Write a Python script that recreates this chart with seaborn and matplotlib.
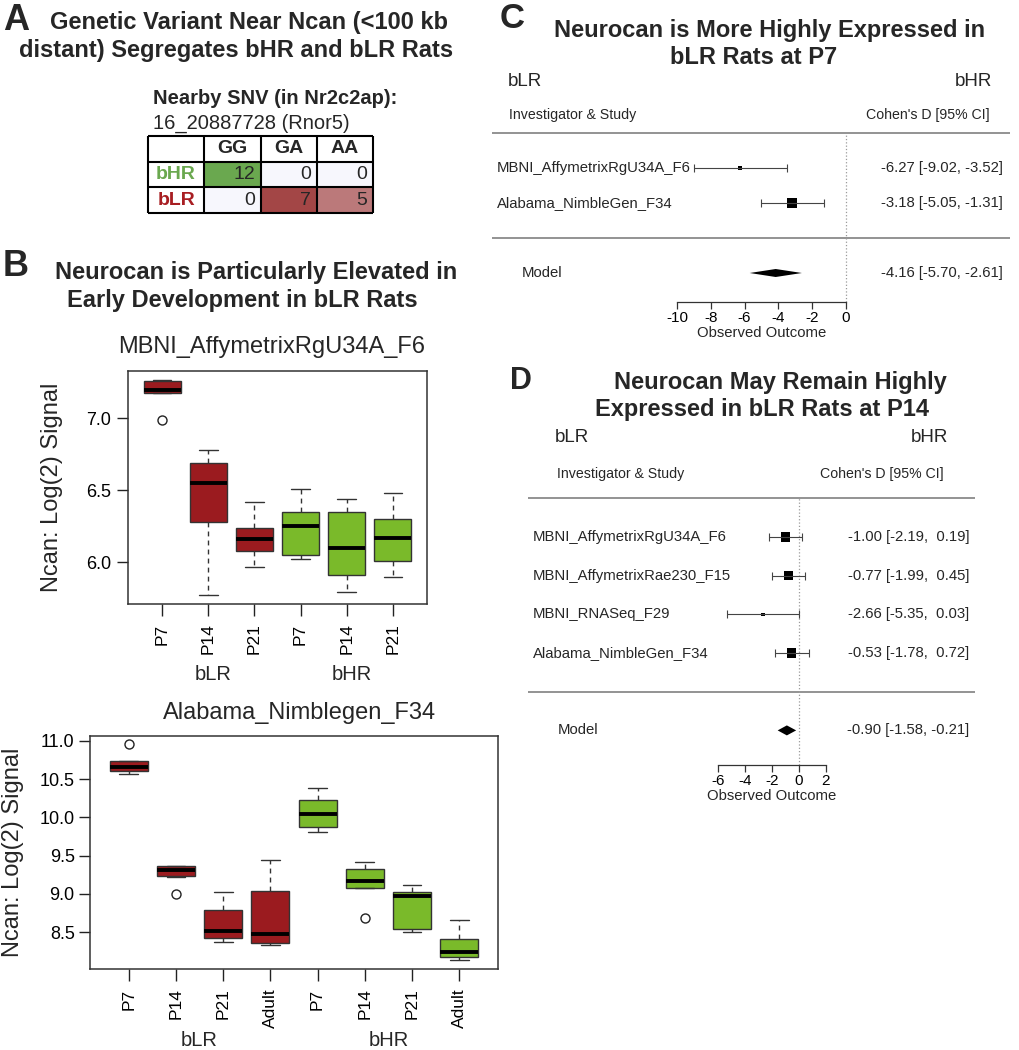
import numpy as np
import pandas as pd
import matplotlib
matplotlib.use("Agg")
import matplotlib.pyplot as plt
from matplotlib import transforms
from matplotlib.colors import LinearSegmentedColormap
import seaborn as sns

# ---- panel A: SNV genotype counts
genotypes = ["GG", "GA", "AA"]
strains = ["bHR", "bLR"]
bhr_counts = [12, 0, 0]
blr_counts = [0, 7, 5]

# ---- panel B: box stats (log2 signal)
f6_ages = ["P7", "P14", "P21", "P7", "P14", "P21"]
f6_lines = ["bLR", "bLR", "bLR", "bHR", "bHR", "bHR"]
f6_whislo = [7.18, 5.77, 5.97, 6.02, 5.79, 5.90]
f6_q1 = [7.18, 6.28, 6.08, 6.05, 5.91, 6.01]
f6_med = [7.20, 6.55, 6.16, 6.25, 6.10, 6.17]
f6_q3 = [7.26, 6.69, 6.24, 6.35, 6.35, 6.30]
f6_whishi = [7.27, 6.78, 6.42, 6.51, 6.44, 6.48]
f6_fliers = [[6.99], [], [], [], [], []]

f34_ages = ["P7", "P14", "P21", "Adult", "P7", "P14", "P21", "Adult"]
f34_lines = ["bLR"] * 4 + ["bHR"] * 4
f34_whislo = [10.57, 9.22, 8.37, 8.33, 9.81, 9.07, 8.50, 8.13]
f34_q1 = [10.60, 9.23, 8.42, 8.36, 9.87, 9.07, 8.54, 8.18]
f34_med = [10.66, 9.31, 8.52, 8.48, 10.04, 9.17, 8.97, 8.24]
f34_q3 = [10.74, 9.36, 8.79, 9.04, 10.22, 9.33, 9.02, 8.41]
f34_whishi = [10.74, 9.37, 9.02, 9.44, 10.38, 9.41, 9.12, 8.66]
f34_fliers = [[10.96], [9.00], [], [], [], [8.68], [], []]

# ---- panel C: Cohen's D at P7
c_studies = ["MBNI_AffymetrixRgU34A_F6", "Alabama_NimbleGen_F34"]
c_d = [-6.27, -3.18]
c_lo = [-9.02, -5.05]
c_hi = [-3.52, -1.31]
c_model = [-4.16, -5.70, -2.61]

# ---- panel D: Cohen's D at P14
d_studies = ["MBNI_AffymetrixRgU34A_F6", "MBNI_AffymetrixRae230_F15",
             "MBNI_RNASeq_F29", "Alabama_NimbleGen_F34"]
d_d = [-1.00, -0.77, -2.66, -0.53]
d_lo = [-2.19, -1.99, -5.35, -1.78]
d_hi = [0.19, 0.45, 0.03, 0.72]
d_model = [-0.90, -1.58, -0.21]

sns.set_style("ticks")
plt.rcParams["font.family"] = ["Liberation Sans", "DejaVu Sans"]
plt.rcParams["axes.unicode_minus"] = False

W, H = 1019, 1050
fig = plt.figure(figsize=(W / 100, H / 100), dpi=100)
line_col = {"bLR": "#9b1b1f", "bHR": "#7aba2a"}
lab_col = {"bHR": "#6aa84f", "bLR": "#a81e22"}
TITLE = 17


def fx(px):
    return px / W


def fy(py):
    return 1 - py / H


def ftext(px, py, s, **kw):
    kw.setdefault("va", "center")
    fig.text(fx(px), fy(py), s, **kw)


# ================= A
ftext(3, 21, "A", fontsize=26, fontweight="bold")
ftext(249, 22, "Genetic Variant Near Ncan (<100 kb", ha="center", fontsize=TITLE, fontweight="bold")
ftext(236, 50, "distant) Segregates bHR and bLR Rats", ha="center", fontsize=TITLE, fontweight="bold")
ftext(153, 98, "Nearby SNV (in Nr2c2ap):", fontsize=14.5, fontweight="bold")
ftext(153, 123, "16_20887728 (Rnor5)", fontsize=14.5)

ax_t = fig.add_axes([fx(148), fy(213), (373 - 148) / W, (213 - 136) / H])
cells = pd.DataFrame(np.nan, index=["hdr"] + strains, columns=["lab"] + genotypes)
green = cells.copy()
green.loc["bHR", genotypes] = bhr_counts
red = cells.copy()
red.loc["bLR", genotypes] = blr_counts
sns.heatmap(green, ax=ax_t, cbar=False, vmin=0, vmax=max(bhr_counts),
            cmap=LinearSegmentedColormap.from_list("g", ["#f7f7fd", "#6aa84f"]))
sns.heatmap(red, ax=ax_t, cbar=False, vmin=0, vmax=max(blr_counts),
            cmap=LinearSegmentedColormap.from_list("r", ["#f7f7fd", "#a34646"]))
ax_t.set_xlim(0, 4)
ax_t.set_ylim(3, 0)
ax_t.set_xticks([])
ax_t.set_yticks([])
ax_t.set_xlabel("")
ax_t.set_ylabel("")
ax_t.hlines(range(4), 0, 4, color="black", lw=1.5, clip_on=False)
ax_t.vlines(range(5), 0, 3, color="black", lw=1.5, clip_on=False)
for j, g in enumerate(genotypes):
    ax_t.text(j + 1.5, 0.5, g, ha="center", va="center", fontsize=14, fontweight="bold")
for i, (s, counts) in enumerate(zip(strains, [bhr_counts, blr_counts])):
    ax_t.text(0.5, i + 1.5, s, ha="center", va="center", fontsize=14,
              fontweight="bold", color=lab_col[s])
    for j, v in enumerate(counts):
        ax_t.text(j + 1.9, i + 1.5, str(v), ha="right", va="center", fontsize=14)


# ================= B
ftext(3, 266, "B", fontsize=26, fontweight="bold")
ftext(256, 273, "Neurocan is Particularly Elevated in", ha="center", fontsize=TITLE, fontweight="bold")
ftext(242, 301, "Early Development in bLR Rats", ha="center", fontsize=TITLE, fontweight="bold")


def boxpanel(box, ages, lines, whislo, q1, med, q3, whishi, fliers, xlim, ylim, yticks,
             title, title_xy, ylab_xy, groups, group_py, ypad):
    x0, top, x1, bot = box
    ax = fig.add_axes([fx(x0), fy(bot), (x1 - x0) / W, (bot - top) / H])
    stats = [dict(whislo=a, q1=b, med=c, q3=d, whishi=e, fliers=f)
             for a, b, c, d, e, f in zip(whislo, q1, med, q3, whishi, fliers)]
    pos = np.arange(1, len(stats) + 1)
    bp = ax.bxp(stats, positions=pos, widths=0.8, capwidths=0.4, patch_artist=True,
                boxprops=dict(edgecolor="#333333", linewidth=1),
                medianprops=dict(color="black", linewidth=2.8),
                whiskerprops=dict(color="#333333", linewidth=1, linestyle=(0, (3.5, 3))),
                capprops=dict(color="#333333", linewidth=1),
                flierprops=dict(marker="o", mfc="none", mec="#222222", ms=6.5, mew=1))
    for patch, ln in zip(bp["boxes"], lines):
        patch.set_facecolor(line_col[ln])
    ax.set_xlim(*xlim)
    ax.set_ylim(*ylim)
    ax.set_xticks(pos)
    ax.set_xticklabels(ages, rotation=90, fontsize=12.5)
    ax.set_yticks(yticks)
    ax.set_yticklabels([f"{t:.1f}" for t in yticks], fontsize=13)
    ax.tick_params(axis="x", bottom=True, direction="out", length=8.5, width=1, pad=5.5,
                   colors="#222222")
    ax.tick_params(axis="y", left=True, direction="out", length=8, width=1, pad=ypad,
                   colors="#222222")
    ax.tick_params(labelcolor="black")
    for sp in ax.spines.values():
        sp.set_visible(True)
        sp.set_color("#333333")
        sp.set_linewidth(1.1)
    ftext(title_xy[0], title_xy[1], title, ha="center", fontsize=17)
    ftext(ylab_xy[0], ylab_xy[1], "Ncan: Log(2) Signal", ha="center", rotation=90, fontsize=17)
    tr = transforms.blended_transform_factory(ax.transData, fig.transFigure)
    for gx, name in groups:
        ax.text(gx, fy(group_py), name, transform=tr, ha="center", va="center", fontsize=14.5)
    return ax


boxpanel((128, 371, 427, 604), f6_ages, f6_lines, f6_whislo, f6_q1, f6_med, f6_q3,
         f6_whishi, f6_fliers, (0.26, 6.74), (5.71, 7.33), [6.0, 6.5, 7.0],
         "MBNI_AffymetrixRgU34A_F6", (272, 347), (52, 487),
         [(2.1, "bLR"), (5.1, "bHR")], 674, 4)
boxpanel((90, 736, 498, 969), f34_ages, f34_lines, f34_whislo, f34_q1, f34_med, f34_q3,
         f34_whishi, f34_fliers, (0.18, 8.82), (8.017, 11.063),
         [8.5, 9.0, 9.5, 10.0, 10.5, 11.0],
         "Alabama_Nimblegen_F34", (300, 713), (13, 852),
         [(2.5, "bLR"), (6.5, "bHR")], 1040, 3)


# ================= C and D: forest plots
def forest(x_px, top_py, axis_py, zero_px, ppu, step, ticks, studies, d, lo, hi, model,
           label_px, model_px, value_px, line_px, dia_px, xlab_py):
    k = len(studies)
    row1_py = top_py + k * step
    ax = fig.add_axes([fx(x_px[0]), fy(axis_py), (x_px[1] - x_px[0]) / W, (axis_py - top_py) / H])
    ax.patch.set_visible(False)

    def tx(px):
        return (px - zero_px) / ppu

    def ty(py):
        return 1 + (row1_py - py) / step

    rows = np.arange(k, 0, -1)
    d, lo, hi = np.asarray(d), np.asarray(lo), np.asarray(hi)
    ax.hlines([k + 1, 0], tx(line_px[0]), tx(line_px[1]), color="#8a8a8a", lw=1.3, clip_on=False)
    ax.vlines(0, ty(axis_py), k + 1, color="#9a9a9a", lw=0.9, linestyles=":")
    ax.errorbar(d, rows, xerr=[d - lo, hi - d], fmt="none", ecolor="#444444",
                elinewidth=0.8, capsize=2.8, capthick=0.8)
    # square size from inverse-variance weight, like metafor
    se = (hi - lo) / 3.92
    w = 1 / se ** 2
    psize = 0.5 + (w - w.min()) / (w.max() - w.min())
    df = pd.DataFrame({"d": d, "row": rows, "area": psize ** 2})
    sns.scatterplot(data=df, x="d", y="row", size="area", sizes=(5.6, 50.8), marker="s",
                    color="black", linewidth=0, legend=False, ax=ax)
    m_d, m_lo, m_hi = model
    h = dia_px / step
    ax.fill([m_lo, m_d, m_hi, m_d], [-1, -1 + h, -1, -1 - h], color="black", lw=0)

    def fmt(a, b, c):
        return f"{a:5.2f} [{b:5.2f}, {c:5.2f}]"

    for r, s, a, b, c in zip(rows, studies, d, lo, hi):
        ax.text(tx(label_px), r, s, ha="left", va="center", fontsize=10.7)
        ax.text(tx(value_px), r, fmt(a, b, c), ha="right", va="center", fontsize=10.7)
    ax.text(tx(model_px), -1, "Model", ha="left", va="center", fontsize=10.7)
    ax.text(tx(value_px), -1, fmt(m_d, m_lo, m_hi), ha="right", va="center", fontsize=10.7)
    ax.text((ticks[0] + ticks[-1]) / 2, ty(xlab_py), "Observed Outcome", ha="center",
            va="center", fontsize=10.7)

    for sp in ["top", "right", "left"]:
        ax.spines[sp].set_visible(False)
    ax.spines["bottom"].set_bounds(ticks[0], ticks[-1])
    ax.spines["bottom"].set_color("#333333")
    ax.spines["bottom"].set_linewidth(0.9)
    ax.set_xticks(ticks)
    ax.set_xticklabels([f"{t:g}" for t in ticks])
    ax.set_yticks([])
    ax.tick_params(axis="x", bottom=True, direction="out", length=5, width=0.9, labelsize=11,
                   pad=1.5, colors="#333333", labelcolor="black")
    ax.set_xlabel("")
    ax.set_ylabel("")
    ax.set_xlim(tx(x_px[0]), tx(x_px[1]))
    ax.set_ylim(ty(axis_py), ty(top_py))
    return ax


ftext(500, 19, "C", fontsize=25, fontweight="bold")
ftext(770, 30, "Neurocan is More Highly Expressed in", ha="center", fontsize=TITLE, fontweight="bold")
ftext(754, 57, "bLR Rats at P7", ha="center", fontsize=TITLE, fontweight="bold")
ftext(508, 81, "bLR", fontsize=13.5)
ftext(992, 81, "bHR", ha="right", fontsize=13.5)
ftext(509, 115, "Investigator & Study", fontsize=10.2)
ftext(990, 115, "Cohen's D [95% CI]", ha="right", fontsize=10.2)
forest((520, 1012), 133, 302, 846, 16.9, 35, [-10, -8, -6, -4, -2, 0],
       c_studies, c_d, c_lo, c_hi, c_model,
       497, 522, 1003, (492, 1010), 4, 333)

ftext(510, 381, "D", fontsize=22, fontweight="bold")
ftext(780, 382, "Neurocan May Remain Highly", ha="center", fontsize=TITLE, fontweight="bold")
ftext(762, 410, "Expressed in bLR Rats at P14", ha="center", fontsize=TITLE, fontweight="bold")
ftext(555, 438, "bLR", fontsize=13.5)
ftext(948, 437, "bHR", ha="right", fontsize=13.5)
ftext(557, 474, "Investigator & Study", fontsize=10.2)
ftext(944, 474, "Cohen's D [95% CI]", ha="right", fontsize=10.2)
forest((520, 1012), 498.2, 765, 799, 13.5, 38.7, [-6, -4, -2, 0, 2],
       d_studies, d_d, d_lo, d_hi, d_model,
       533, 558, 969, (528, 975), 5, 796)

fig.savefig("out.png", dpi=100)
